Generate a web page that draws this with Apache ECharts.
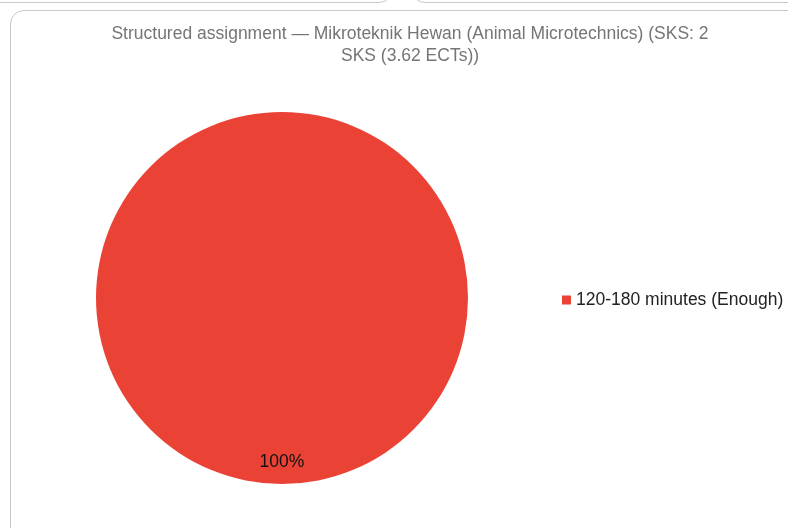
<!DOCTYPE html>
<html><head><meta charset="utf-8">
<script src="https://cdn.jsdelivr.net/npm/echarts@6/dist/echarts.min.js"></script>
<style>
html,body{margin:0;padding:0;background:#fff;overflow:hidden;}
#wrap{position:relative;width:788px;height:528px;overflow:hidden;}
.card{position:absolute;border:1px solid #c8c8c8;border-radius:14px;box-sizing:border-box;background:transparent;}
#chart{position:absolute;left:0;top:0;width:788px;height:528px;}
</style></head>
<body><div id="wrap">
<div class="card" style="left:-20px;top:-60px;width:413px;height:63px;"></div>
<div class="card" style="left:411px;top:-60px;width:420px;height:63px;"></div>
<div class="card" style="left:10px;top:10px;width:820px;height:560px;"></div>
<div id="chart"></div>
</div>
<script>
const titleText = 'Structured assignment — Mikroteknik Hewan (Animal Microtechnics) (SKS: 2\nSKS (3.62 ECTs))';
const categories = ['120-180 minutes (Enough)'];
const values = [100];
const colors = ['#EA4335'];

const chart = echarts.init(document.getElementById('chart'));
chart.setOption({
  animation: false,
  title: {
    text: titleText, left: 405, top: 18, textAlign: 'center',
    textStyle: {fontFamily: 'Liberation Sans, Arial', fontSize: 17.5, fontWeight: 'normal', color: '#757575', lineHeight: 22}
  },
  legend: {
    orient: 'vertical', left: 557, top: 286,
    itemWidth: 9, itemHeight: 9, itemGap: 6, icon: 'rect',
    textStyle: {fontFamily: 'Liberation Sans, Arial', fontSize: 17.5, color: '#222'},
    data: categories
  },
  series: [{
    type: 'pie', center: [282, 298], radius: [0, 186], startAngle: 90,
    color: colors,
    label: {show: true, position: 'inside', formatter: '{d}%', offset: [0, 68],
      fontFamily: 'Liberation Sans, Arial', fontSize: 17.5, color: '#111'},
    labelLine: {show: false},
    itemStyle: {borderColor: '#fff', borderWidth: 0},
    emphasis: {disabled: true},
    data: categories.map((c, i) => ({name: c, value: values[i]}))
  }]
});
</script></body></html>
